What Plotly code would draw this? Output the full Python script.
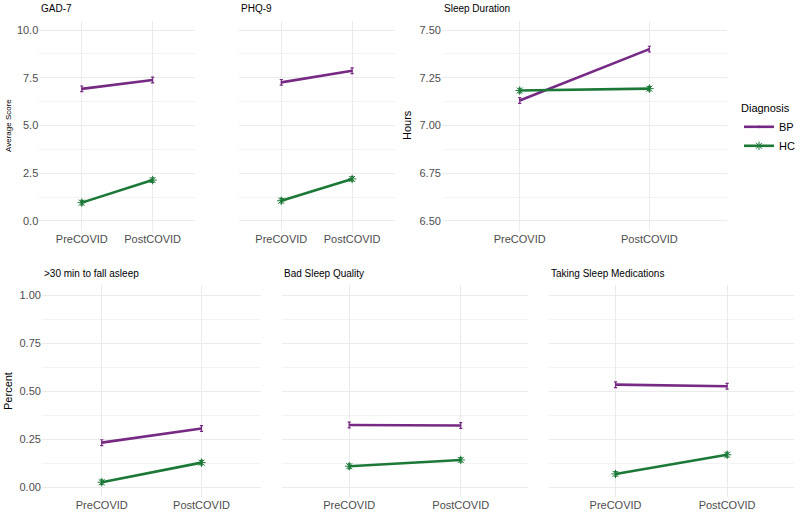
import plotly.graph_objects as go

# ---- data ----
timepoints = ["PreCOVID", "PostCOVID"]
diagnoses = ["BP", "HC"]

panel_titles = ["GAD-7", "PHQ-9", "Sleep Duration",
                ">30 min to fall asleep", "Bad Sleep Quality", "Taking Sleep Medications"]

bp_gad7 = [6.92, 7.38]
hc_gad7 = [0.96, 2.14]
bp_phq9 = [7.26, 7.87]
hc_phq9 = [1.06, 2.20]
bp_sleep_hours = [7.131, 7.400]
hc_sleep_hours = [7.183, 7.193]
bp_fall_asleep = [0.231, 0.305]
hc_fall_asleep = [0.025, 0.127]
bp_bad_quality = [0.323, 0.320]
hc_bad_quality = [0.108, 0.141]
bp_sleep_meds = [0.533, 0.525]
hc_sleep_meds = [0.068, 0.168]

# tiny standard errors drawn as error bars
bp_se = [[0.15, 0.15], [0.15, 0.15], [0.015, 0.015], [0.015, 0.015], [0.015, 0.015], [0.015, 0.015]]
hc_se = [[0.12, 0.12], [0.12, 0.12], [0.012, 0.012], [0.012, 0.012], [0.012, 0.012], [0.012, 0.012]]

bp_values = [bp_gad7, bp_phq9, bp_sleep_hours, bp_fall_asleep, bp_bad_quality, bp_sleep_meds]
hc_values = [hc_gad7, hc_phq9, hc_sleep_hours, hc_fall_asleep, hc_bad_quality, hc_sleep_meds]

# ---- styling ----
W, H = 800, 529
PURPLE = "#762A83"
GREEN = "#1B7837"
GRID = "#EBEBEB"
FONT = "Liberation Sans"
TICK_COLOR = "#4D4D4D"


def px_x(x):
    return x / W


def px_y(y):
    return 1 - y / H


# panel boxes in window pixels: (left, right, top, bottom)
top_y = (20.5, 230.5)
bot_y = (285.4, 496.6)
panel_px = [
    (39.4, 195.6) + top_y,
    (239.4, 395.6) + top_y,
    (443.0, 729.0) + top_y,
    (42.0, 262.0) + bot_y,
    (283.0, 529.0) + bot_y,
    (550.0, 796.0) + bot_y,
]

y_ranges = [[-0.5, 10.5], [-0.5, 10.5], [6.45, 7.55], [-0.05, 1.05], [-0.05, 1.05], [-0.05, 1.05]]
y_dtick = [2.5, 2.5, 0.25, 0.25, 0.25, 0.25]
y_fmt = [".1f", ".1f", ".2f", ".2f", ".2f", ".2f"]
show_yticks = [True, False, True, True, False, False]

fig = go.Figure()

for i in range(6):
    ax = "" if i == 0 else str(i + 1)
    for name, vals, errs, color, sym in [
        ("BP", bp_values[i], bp_se[i], PURPLE, "line-ns"),
        ("HC", hc_values[i], hc_se[i], GREEN, "asterisk-open"),
    ]:
        fig.add_trace(go.Scatter(
            x=timepoints, y=vals,
            mode="lines+markers",
            name=name,
            legendgroup=name,
            showlegend=(i == 0),
            line=dict(color=color, width=2.6),
            marker=dict(symbol=sym, size=7 if name == "HC" else 1,
                        color=color, line=dict(color=color, width=1)),
            error_y=dict(type="data", array=errs, color=color,
                         thickness=1.2, width=1.6),
            xaxis="x" + ax, yaxis="y" + ax,
        ))

    l, r, t, b = panel_px[i]
    fig.update_layout(**{
        "xaxis" + ax: dict(
            domain=[px_x(l), px_x(r)], anchor="y" + ax,
            type="category", range=[-0.6, 1.6],
            showgrid=True, gridcolor=GRID, gridwidth=1,
            showline=False, zeroline=False, ticks="",
            tickfont=dict(family=FONT, size=11, color=TICK_COLOR),
            fixedrange=True,
        ),
        "yaxis" + ax: dict(
            domain=[px_y(b), px_y(t)], anchor="x" + ax,
            range=y_ranges[i], dtick=y_dtick[i], tick0=0, tickformat=y_fmt[i],
            showticklabels=show_yticks[i],
            showgrid=True, gridcolor=GRID, gridwidth=1,
            minor=dict(dtick=y_dtick[i] / 2, tick0=0, showgrid=True,
                       gridcolor="#F3F3F3", gridwidth=0.6),
            showline=False, zeroline=False, ticks="",
            tickfont=dict(family=FONT, size=11, color=TICK_COLOR),
            fixedrange=True,
        ),
    })
    fig.add_annotation(
        text=panel_titles[i], xref="paper", yref="paper",
        x=px_x(l), y=px_y(t - 4), xanchor="left", yanchor="bottom",
        showarrow=False, font=dict(family=FONT, size=10, color="black"),
    )

# axis titles
for text, x, y, size in [("Average Score", 8, 125, 8), ("Hours", 408, 125, 11), ("Percent", 8, 391, 11)]:
    fig.add_annotation(
        text=text, xref="paper", yref="paper", x=px_x(x), y=px_y(y),
        textangle=-90, showarrow=False, xanchor="center", yanchor="middle",
        font=dict(family=FONT, size=size, color="black"),
    )

fig.update_layout(
    width=W, height=H,
    margin=dict(l=0, r=0, t=0, b=0),
    plot_bgcolor="white", paper_bgcolor="white",
    font=dict(family=FONT, color="black"),
    legend=dict(
        title=dict(text="Diagnosis", font=dict(family=FONT, size=11, color="black")),
        font=dict(family=FONT, size=11, color="black"),
        x=px_x(741), y=px_y(98), xanchor="left", yanchor="top",
        bgcolor="rgba(0,0,0,0)", itemwidth=30, tracegroupgap=0,
    ),
)

# drop the browser's default 8px body margin so the figure sits at the corner
fig.write_html("out.html", config={"displayModeBar": False},
               post_script="document.body.style.margin='0px';")
